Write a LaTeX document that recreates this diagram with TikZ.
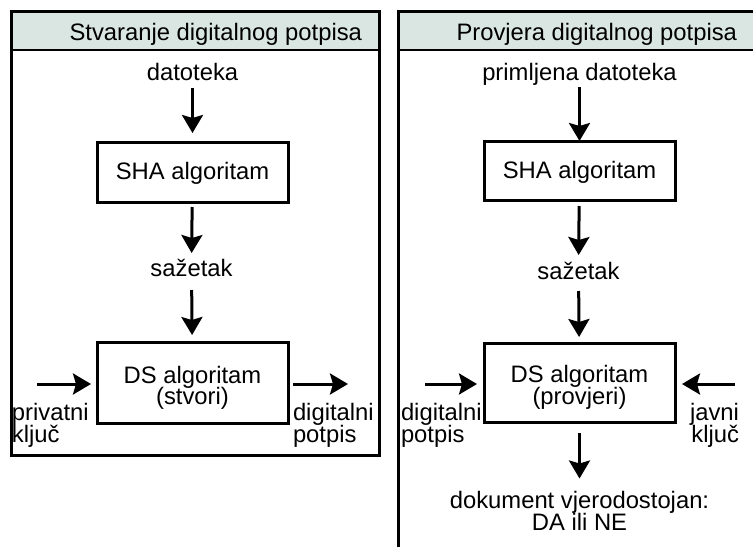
\documentclass[tikz,border=0pt]{standalone}
\usepackage{fontspec}
\setmainfont{Liberation Sans}
\usetikzlibrary{arrows.meta}
\definecolor{hdr}{RGB}{217,230,226}
\begin{document}
\begin{tikzpicture}[x=1pt,y=-1pt,
  txt/.style={inner sep=0pt, outer sep=0pt, text height=17pt, text depth=0pt, font=\fontsize{23.8}{22}\selectfont},
  box/.style={draw, line width=3pt, inner sep=0pt, outer sep=0pt, minimum width=191pt},
  arr/.style={line width=3pt, -{Stealth[length=18pt,width=21pt,inset=3pt]}},
  panel/.style={line width=3pt},
  sep/.style={line width=2pt}]
\useasboundingbox (0,0) rectangle (753,547);
% ---------- left panel ----------
\fill[hdr] (11,11.5) rectangle (379,50);
\draw[sep] (11,50) -- (379,50);
\draw[panel] (11,11.5) rectangle (379,455);
\node[txt, anchor=base east] (hL) at (362,40) {Stvaranje digitalnog potpisa};
\node[txt, anchor=base] (datL) at (192.5,80) {datoteka};
\node[box, minimum height=60pt] (shaL) at (192.5,172) {};
\node[txt, anchor=base] (shaLt) at (192.5,179) {SHA algoritam};
\node[txt, anchor=base] (sazL) at (191.5,276.5) {sažetak};
\node[box, minimum height=81pt] (dsL) at (192.5,382.5) {};
\node[txt, anchor=base] (dsLa) at (192.5,383) {DS algoritam};
\node[txt, anchor=base] (dsLb) at (192.5,404.5) {(stvori)};
\coordinate (pkA) at (37,384);
\coordinate (dpA) at (348,384);
\node[txt, anchor=base west] (pk1) at (12,420) {privatni};
\node[txt, anchor=base west] (pk2) at (12,442) {ključ};
\node[txt, anchor=base west] (dp1) at (293,420) {digitalni};
\node[txt, anchor=base west] (dp2) at (293,442) {potpis};
\draw[arr, shorten <=8pt, shorten >=9pt] (datL) -- (shaL);
\draw[arr, shorten <=5pt, shorten >=6.5pt] (shaL) -- (sazL);
\draw[arr, shorten <=13.5pt, shorten >=7pt] (sazL) -- (dsL);
\draw[arr, shorten >=6pt] (pkA) -- (pkA -| dsL.west);
\draw[arr, shorten <=5pt] (dpA -| dsL.east) -- (dpA);
% ---------- right panel ----------
\fill[hdr] (398,11.5) rectangle (753,50);
\draw[sep] (398,50) -- (753,50);
\draw[panel] (398,547) -- (398,11.5) -- (753,11.5);
\node[txt, anchor=base east] (hR) at (737,40) {Provjera digitalnog potpisa};
\node[txt, anchor=base] (datR) at (579.5,80) {primljena datoteka};
\node[box, minimum height=59pt] (shaR) at (579.5,170.5) {};
\node[txt, anchor=base] (shaRt) at (579.5,178) {SHA algoritam};
\node[txt, anchor=base] (sazR) at (578.5,279) {sažetak};
\node[box, minimum height=79pt] (dsR) at (579.5,382.5) {};
\node[txt, anchor=base] (dsRa) at (579.5,382) {DS algoritam};
\node[txt, anchor=base] (dsRb) at (579.5,404) {(provjeri)};
\coordinate (dpB) at (425,384);
\coordinate (jkB) at (735,384);
\node[txt, anchor=base west] (dq1) at (401,420) {digitalni};
\node[txt, anchor=base west] (dq2) at (401,442) {potpis};
\node[txt, anchor=base east] (jk1) at (739,420) {javni};
\node[txt, anchor=base east] (jk2) at (739,442) {ključ};
\node[txt, anchor=base] (dok1) at (579.5,508.5) {dokument vjerodostojan:};
\node[txt, anchor=base] (dok2) at (579.5,530.5) {DA ili NE};
\draw[arr, shorten <=7pt] (datR) -- (shaR);
\draw[arr, shorten <=6pt, shorten >=7pt] (shaR) -- (sazR);
\draw[arr, shorten <=12pt, shorten >=6pt] (sazR) -- (dsR);
\draw[arr, shorten >=7pt] (dpB) -- (dpB -| dsR.west);
\draw[arr, shorten >=7pt] (jkB) -- (jkB -| dsR.east);
\draw[arr, shorten <=11pt, shorten >=13pt] (dsR) -- (dok1);
\end{tikzpicture}
\end{document}
